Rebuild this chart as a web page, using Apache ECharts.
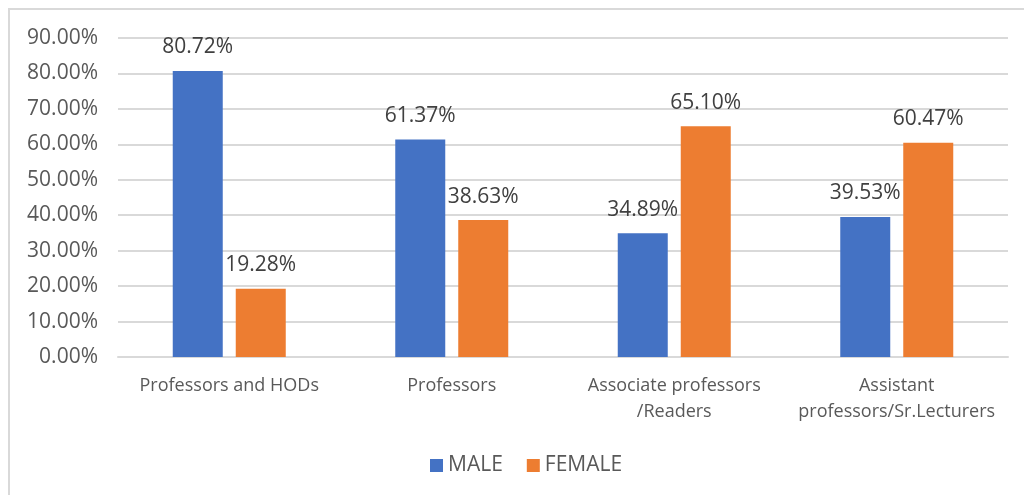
<!DOCTYPE html>
<html>
<head>
<meta charset="utf-8">
<script src="https://cdn.jsdelivr.net/npm/echarts@6/dist/echarts.min.js"></script>
<style>
  html, body { margin: 0; padding: 0; background: #fff; }
  #frame { position: absolute; left: 8px; top: 8px; width: 1030px; height: 500px; border: 2px solid #d9d9d9; box-sizing: border-box; }
  #chart { position: absolute; left: 0; top: 0; width: 1024px; height: 495px; }
</style>
</head>
<body>
<div id="frame"></div>
<div id="chart"></div>
<script>
// categories and values
var categories = ['Professors and HODs', 'Professors', 'Associate professors\n/Readers', 'Assistant\nprofessors/Sr.Lecturers'];
var maleValues = [80.72, 61.37, 34.89, 39.53];
var femaleValues = [19.28, 38.63, 65.10, 60.47];
var yTicks = { min: 0, max: 90, step: 10 };

var font = '"Open Sans", sans-serif';
var textColor = '#595959';

var chart = echarts.init(document.getElementById('chart'));
var option = {
  animation: false,
  textStyle: { fontFamily: font },
  grid: { left: 118, right: 16, top: 38, bottom: 138, containLabel: false },
  legend: {
    top: 450,
    left: 425,
    itemWidth: 13,
    itemHeight: 13,
    itemGap: 24,
    icon: 'rect',
    textStyle: { color: textColor, fontSize: 21, fontFamily: font },
    data: ['MALE', 'FEMALE']
  },
  xAxis: {
    type: 'category',
    data: categories,
    axisTick: { show: false },
    axisLine: { lineStyle: { color: '#d9d9d9', width: 2 } },
    axisLabel: { color: textColor, fontSize: 18, lineHeight: 26, margin: 16, interval: 0, fontFamily: font }
  },
  yAxis: {
    type: 'value',
    min: yTicks.min,
    max: yTicks.max,
    interval: yTicks.step,
    axisLine: { show: false },
    axisTick: { show: false },
    splitLine: { lineStyle: { color: '#d9d9d9', width: 2 } },
    axisLabel: {
      color: textColor, fontSize: 21, margin: 20, fontFamily: font,
      formatter: function (v) { return v.toFixed(2) + '%'; }
    }
  },
  series: [
    {
      name: 'MALE',
      type: 'bar',
      data: maleValues,
      barWidth: 50,
      barGap: '26%',
      itemStyle: { color: '#4472C4' },
      label: {
        show: true, position: 'top', distance: 13, color: '#404040', fontSize: 21, fontFamily: font,
        formatter: function (p) { return p.value.toFixed(2) + '%'; }
      }
    },
    {
      name: 'FEMALE',
      type: 'bar',
      data: femaleValues,
      barWidth: 50,
      itemStyle: { color: '#ED7D31' },
      label: {
        show: true, position: 'top', distance: 13, color: '#404040', fontSize: 21, fontFamily: font,
        formatter: function (p) { return p.value.toFixed(2) + '%'; }
      }
    }
  ]
};
chart.setOption(option);
</script>
</body>
</html>
